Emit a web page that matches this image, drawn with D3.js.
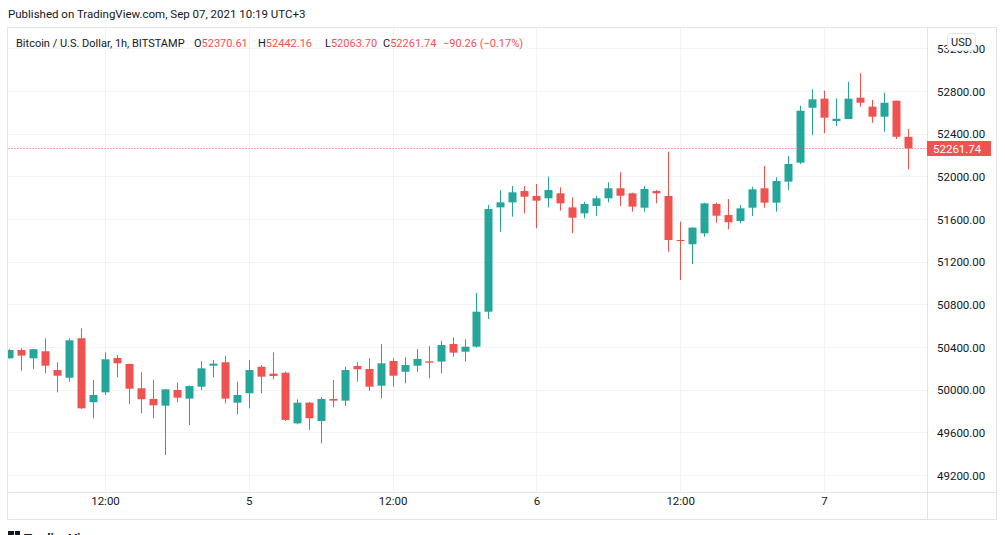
<!DOCTYPE html>
<html>
<head>
<meta charset="utf-8">
<script src="https://cdn.jsdelivr.net/npm/d3@7"></script>
<style>
  html, body { margin: 0; padding: 0; background: #ffffff; }
  svg { display: block; }
  text { font-family: Roboto, "Liberation Sans", Arial, sans-serif; }
</style>
</head>
<body>
<svg id="chart" width="1005" height="535"></svg>
<script>
// ---------------- DATA ----------------
// Hourly candles, BTC/USD BITSTAMP, first candle Sep 4 2021 04:00
const startTime = Date.UTC(2021, 8, 4, 4);
const open  = [50294,50372,50294,50360,50184,50112,50482,49882,49975,50297,50241,50013,49913,49850,49997,49916,50028,50225,50257,49878,
               49966,50215,50150,50159,49684,49878,49706,49913,49897,50222,50194,50037,50269,50168,50225,50266,50263,50428,50356,50403,
               50731,51709,51756,51862,51816,51794,51841,51709,51653,51722,51794,51888,51841,51706,51862,51816,51403,51363,51466,51741,
               51637,51581,51706,51888,51753,51950,52128,52643,52728,52519,52537,52737,52653,52559,52709,52370.61];
const high  = [50380,50388,50381,50482,50257,50482,50575,50091,50350,50325,50245,50163,50091,50005,50066,50040,50269,50278,50316,50075,
               50278,50231,50350,50169,49910,49885,49928,50091,50215,50257,50294,50428,50294,50303,50381,50409,50459,50491,50472,50909,
               51731,51872,51909,51909,51928,51997,51897,51803,51762,51816,51944,52038,51847,51909,51872,52231,51575,51522,51753,51753,
               51787,51731,51903,52097,51991,52191,52662,52816,52803,52732,52887,52966,52716,52784,52709,52442.16];
const low   = [50290,50178,50194,50153,49975,50075,49819,49732,49950,50116,49863,49778,49732,49387,49882,49669,49997,50116,49872,49769,
               49825,49966,50097,49706,49675,49622,49497,49835,49847,50075,49988,49919,50028,50060,50168,50107,50153,50309,50263,50394,
               50662,51481,51622,51653,51513,51709,51678,51466,51606,51631,51756,51722,51669,51669,51747,51293,51028,51178,51434,51565,
               51503,51560,51628,51706,51669,51872,52116,52388,52403,52472,52537,52653,52503,52418,52350,52063.70];
const close = [50372,50319,50379,50225,50131,50463,49825,49950,50285,50247,50009,49910,49853,50003,49925,50034,50200,50244,49916,49950,
               50184,50122,50128,49716,49878,49732,49913,49897,50184,50191,50028,50247,50131,50231,50288,50253,50419,50347,50403,50731,
               51694,51756,51850,51809,51772,51872,51747,51612,51741,51794,51888,51818,51716,51881,51841,51403,51394,51519,51747,51631,
               51569,51700,51878,51753,51956,52116,52615,52722,52550,52540,52728,52690,52559,52690,52370.61,52261.74];

const priceTicks = [49200,49600,50000,50400,50800,51200,51600,52000,52400,52800,53200];
const timeTicks  = [Date.UTC(2021,8,4,12), Date.UTC(2021,8,5,0), Date.UTC(2021,8,5,12),
                    Date.UTC(2021,8,6,0), Date.UTC(2021,8,6,12), Date.UTC(2021,8,7,0)];
const timeTickLabels = ["12:00","5","12:00","6","12:00","7"];

const symbolTitle = "Bitcoin / U.S. Dollar, 1h, BITSTAMP";
const lastO = "52370.61", lastH = "52442.16", lastL = "52063.70", lastC = "52261.74";
const changeText = "\u221290.26 (\u22120.17%)";
const publishedText = "Published on TradingView.com, Sep 07, 2021 10:19 UTC+3";
const lastPrice = 52261.74;

// ---------------- LAYOUT ----------------
const UP = "#26a69a", DOWN = "#ef5350";
const GRID = "#f0f3fa", BORDER = "#e0e3eb", TEXT = "#131722";
const frame = {left: 7.5, top: 27.5, right: 996.5, bottom: 519.5};
const pane  = {left: 7.5, top: 27.5, right: 927.5, bottom: 492.5};

const candles = open.map((o, i) => ({
  t: new Date(startTime + i * 3600e3), o, h: high[i], l: low[i], c: close[i]
}));

const x = d3.scaleUtc()
  .domain([new Date(timeTicks[0]), new Date(timeTicks[5])])
  .range([105, 824]);
const y = d3.scaleLinear()
  .domain([49200, 52800])
  .range([475, 91]);

const svg = d3.select("#chart");

// clip for pane
svg.append("defs").append("clipPath").attr("id", "paneClip")
  .append("rect")
  .attr("x", pane.left + 0.5).attr("y", pane.top + 0.5)
  .attr("width", pane.right - pane.left - 1).attr("height", pane.bottom - pane.top - 1);

// grid
const grid = svg.append("g").attr("clip-path", "url(#paneClip)");
grid.selectAll("line.h").data(priceTicks).join("line")
  .attr("x1", pane.left).attr("x2", pane.right)
  .attr("y1", d => Math.round(y(d)) + 0.5).attr("y2", d => Math.round(y(d)) + 0.5)
  .attr("stroke", GRID).attr("stroke-width", 1);
grid.selectAll("line.v").data(timeTicks).join("line")
  .attr("x1", d => Math.round(x(new Date(d))) + 0.5).attr("x2", d => Math.round(x(new Date(d))) + 0.5)
  .attr("y1", pane.top).attr("y2", pane.bottom)
  .attr("stroke", GRID).attr("stroke-width", 1);

// candles
const hourW = x(new Date(timeTicks[0] + 3600e3)) - x(new Date(timeTicks[0]));
const bodyW = Math.round(hourW * 0.7);
const cg = svg.append("g").attr("clip-path", "url(#paneClip)");
const cs = cg.selectAll("g.c").data(candles).join("g");
cs.append("line")
  .attr("x1", d => Math.round(x(d.t)) + 0.5).attr("x2", d => Math.round(x(d.t)) + 0.5)
  .attr("y1", d => y(d.h)).attr("y2", d => y(d.l))
  .attr("stroke", d => d.c >= d.o ? UP : DOWN).attr("stroke-width", 1);
cs.append("rect")
  .attr("x", d => Math.round(x(d.t)) + 0.5 - bodyW / 2)
  .attr("width", bodyW)
  .attr("y", d => y(Math.max(d.o, d.c)))
  .attr("height", d => Math.max(1, Math.abs(y(d.o) - y(d.c))))
  .attr("fill", d => d.c >= d.o ? UP : DOWN);

// last price dotted line
svg.append("line")
  .attr("x1", pane.left + 1).attr("x2", pane.right)
  .attr("y1", Math.round(y(lastPrice)) + 0.5).attr("y2", Math.round(y(lastPrice)) + 0.5)
  .attr("stroke", DOWN).attr("stroke-width", 1).attr("stroke-dasharray", "1,2");

// frame and separators
svg.append("rect")
  .attr("x", frame.left).attr("y", frame.top)
  .attr("width", frame.right - frame.left).attr("height", frame.bottom - frame.top)
  .attr("fill", "none").attr("stroke", BORDER);
svg.append("line").attr("x1", pane.right).attr("x2", pane.right)
  .attr("y1", frame.top).attr("y2", frame.bottom).attr("stroke", BORDER);
svg.append("line").attr("x1", frame.left).attr("x2", frame.right)
  .attr("y1", pane.bottom).attr("y2", pane.bottom).attr("stroke", BORDER);

// price axis
const yAxis = d3.axisRight(y).tickValues(priceTicks).tickFormat(d3.format(".2f")).tickSize(0).tickPadding(0);
const ya = svg.append("g").attr("transform", `translate(937,0)`).call(yAxis);
ya.select(".domain").remove();
ya.selectAll("text").attr("font-size", 11.5).attr("fill", TEXT).attr("font-family", "Roboto, 'Liberation Sans', Arial, sans-serif")
  .attr("dy", "0.35em").attr("x", 0);

// time axis
const xAxis = d3.axisBottom(x).tickValues(timeTicks.map(d => new Date(d)))
  .tickFormat((d, i) => timeTickLabels[i]).tickSize(0).tickPadding(0);
const xa = svg.append("g").attr("transform", `translate(0,497)`).call(xAxis);
xa.select(".domain").remove();
xa.selectAll("text").attr("font-size", 11.5).attr("fill", TEXT).attr("font-family", "Roboto, 'Liberation Sans', Arial, sans-serif")
  .attr("dy", "0.71em");

// last price label
const ly = Math.round(y(lastPrice));
svg.append("rect").attr("x", 927).attr("y", ly - 7).attr("width", 64).attr("height", 15).attr("fill", DOWN);
svg.append("text").attr("x", 933).attr("y", ly + 4.5).attr("font-size", 11.5).attr("fill", "#ffffff")
  .text(d3.format(".2f")(lastPrice));

// USD box
svg.append("rect").attr("x", 947.5).attr("y", 33.5).attr("width", 28).attr("height", 17).attr("rx", 3)
  .attr("fill", "#ffffff").attr("stroke", BORDER);
svg.append("text").attr("x", 961.5).attr("y", 46).attr("text-anchor", "middle")
  .attr("font-size", 11).attr("fill", TEXT).text("USD");

// published line
svg.append("text").attr("x", 8).attr("y", 17.5).attr("font-size", 11.5).attr("fill", TEXT).text(publishedText);

// legend line
const lg = svg.append("text").attr("y", 46.5).attr("font-size", 11);
const parts = [
  {x: 16, t: symbolTitle, c: TEXT},
  {x: 194, t: "O", c: TEXT}, {t: lastO, c: DOWN},
  {x: 258, t: "H", c: TEXT}, {t: lastH, c: DOWN},
  {x: 325, t: "L", c: TEXT}, {t: lastL, c: DOWN},
  {x: 383, t: "C", c: TEXT}, {t: lastC, c: DOWN},
  {x: 443, t: changeText, c: DOWN}
];
parts.forEach(p => {
  const ts = lg.append("tspan").attr("fill", p.c).text(p.t);
  if (p.x !== undefined) ts.attr("x", p.x);
});

// TradingView logo (cut off at bottom)
svg.append("rect").attr("x", 8).attr("y", 531).attr("width", 6).attr("height", 6).attr("fill", TEXT);
svg.append("rect").attr("x", 15).attr("y", 531).attr("width", 5).attr("height", 6).attr("fill", TEXT);
svg.append("text").attr("x", 24).attr("y", 543).attr("font-size", 13).attr("font-weight", "bold")
  .attr("fill", TEXT).text("TradingView");
</script>
</body>
</html>
